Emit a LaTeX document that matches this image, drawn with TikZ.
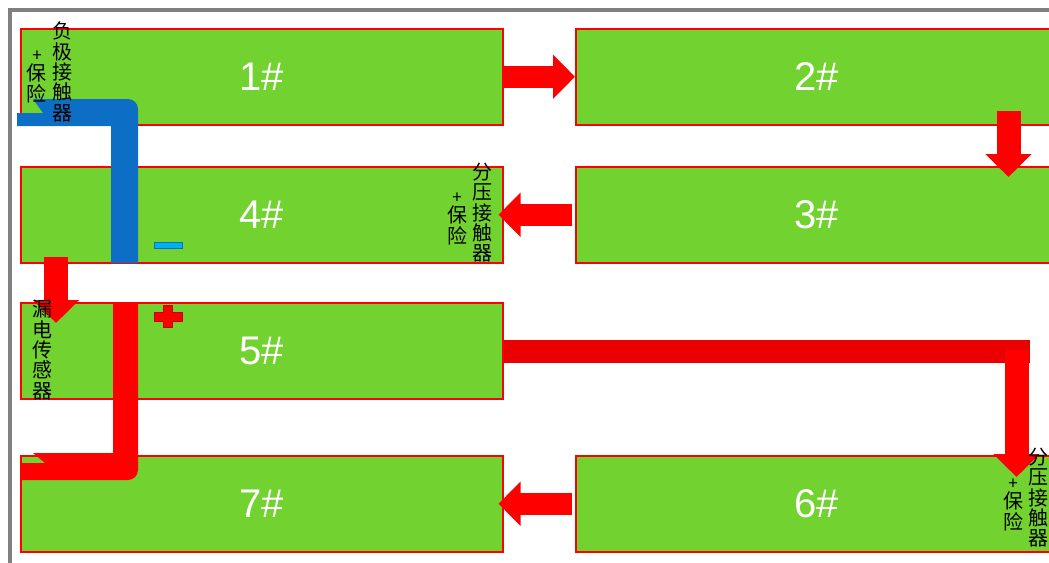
\documentclass[tikz,border=0pt]{standalone}
\usepackage{fontspec}
\setmainfont{Liberation Sans}
\newfontfamily\cjk{Noto Sans CJK SC}
\usetikzlibrary{arrows.meta,calc}
\definecolor{boxgreen}{RGB}{114,210,48}
\definecolor{pptblue}{RGB}{12,110,196}
\definecolor{minusblue}{RGB}{0,176,240}
\definecolor{barred}{RGB}{234,0,0}
\definecolor{darkred}{RGB}{200,0,0}
\definecolor{framegray}{RGB}{128,128,128}
\tikzset{
  box/.style={draw=red, line width=1.5pt, fill=boxgreen, minimum width=482pt,
    minimum height=96pt, inner sep=0pt, text=white, font=\fontsize{40}{40}\selectfont,
    anchor=north west},
  col/.style={font=\cjk\fontsize{20}{20.3}\selectfont, align=center, inner sep=0pt,
    anchor=north, text=black},
  plussign/.style={font=\cjk\fontsize{17}{17}\selectfont, inner sep=0pt, text=black},
  harrow/.style={draw=red, line width=22pt, -{Triangle[length=22pt,width=43pt]}},
  varrow/.style={draw=red, line width=24pt, -{Triangle[length=23pt,width=45pt]}},
}
\begin{document}
\begin{tikzpicture}[x=1pt,y=-1pt]
\useasboundingbox (0,0) rectangle (1049,562);
\clip (0,0) rectangle (1049,562);
% frame
\draw[framegray, line width=4pt] (10,600) -- (10,10) -- (1100,10);
% boxes
\node[box] (b1) at (20,28) {1\#};
\node[box] (b2) at (575,28) {2\#};
\node[box] (b4) at (20,166) {4\#};
\node[box] (b3) at (575,166) {3\#};
\node[box] (b5) at (20,302) {5\#};
\node[box] (b7) at (20,455) {7\#};
\node[box] (b6) at (575,455) {6\#};
% flow arrows
\draw[harrow] (b1.east) -- (b2.west);
\draw[varrow] ($(b2.south east)+(-50,-15)$) -- ($(b3.north east)+(-50,11)$);
\draw[harrow] ($(b3.west)+(-3,0)$) -- ($(b4.east)+(-5,0)$);
\draw[varrow] ($(b4.south west)+(36,-7)$) -- ($(b5.north west)+(36,21)$);
\fill[barred] ($(b5.east)+(0,-11)$) rectangle ($(b6.north east)+(-29,-92)$);
\draw[varrow] ($(b6.north east)+(-42,-105)$) -- ($(b6.north east)+(-42,22)$);
\draw[harrow] ($(b6.west)+(-3,0)$) -- ($(b7.east)+(-5,0)$);
% blue negative line
\fill[pptblue] (17,126) -- (17,113) -- (43,113) -- (33,99) -- (128,99)
  .. controls (133.5,99) and (138,103.5) .. (138,109) -- (138,263) -- (111,263)
  -- (111,126) -- cycle;
% red positive line
\fill[red] (20,480) -- (20,463) -- (45,463) -- (33,453) -- (113,453) -- (113,302)
  -- (138,302) -- (138,470) .. controls (138,475.5) and (133.5,480) .. (128,480) -- cycle;
% plus and minus signs
\filldraw[fill=red, draw=darkred, line width=0.8pt]
  (163,305) -- (172,305) -- (172,312) -- (182,312) -- (182,321) -- (172,321)
  -- (172,327) -- (163,327) -- (163,321) -- (154,321) -- (154,312) -- (163,312) -- cycle;
\filldraw[fill=minusblue, draw=pptblue, line width=0.8pt] (154,242) rectangle (182,248);
% vertical labels
\node[col] (t1a) at (62,22) {负\\极\\接\\触\\器};
\node[col] (t1b) at (37,64) {保\\险};
\node[plussign] (t1p) at (37,56) {+};
\node[col] (t4a) at (482,163) {分\\压\\接\\触\\器};
\node[col] (t4b) at (457,206) {保\\险};
\node[plussign] (t4p) at (457,198) {+};
\node[col] (t5a) at (42,300) {漏\\电\\传\\感\\器};
\node[col] (t6a) at (1038,448) {分\\压\\接\\触\\器};
\node[col] (t6b) at (1013,492) {保\\险};
\node[plussign] (t6p) at (1013,484) {+};
\end{tikzpicture}
\end{document}
